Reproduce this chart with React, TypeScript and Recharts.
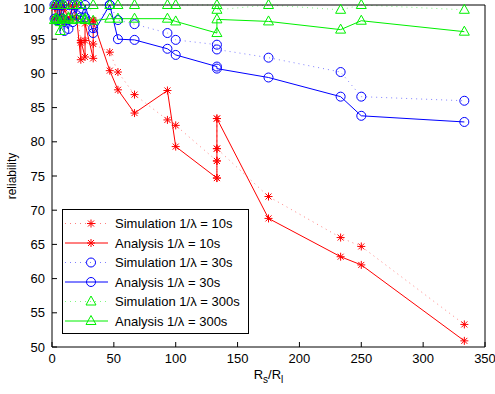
import React from 'react';
import { LineChart, Line, XAxis, YAxis, Legend } from 'recharts';

// x = Rs/Rl, y = reliability (%)
const X_TICKS = [0, 50, 100, 150, 200, 250, 300, 350];
const Y_TICKS = [50, 55, 60, 65, 70, 75, 80, 85, 90, 95, 100];

const redSimX = [2, 3.3, 5, 6.7, 8.3, 10, 13.3, 16.7, 20, 23.3, 26.7, 33.3, 33.3, 46.7, 53.3, 66.7, 93.3, 100, 133.3, 133.3, 133.3, 133.3, 175, 233.3, 250, 333.3];
const redSimY = [99.6, 100, 99.8, 98.3, 100, 97.8, 100, 98.2, 100, 94.5, 94.8, 97.8, 94.3, 93.1, 90.2, 86.9, 83.2, 82.4, 77.2, 74.7, 83.4, 79.0, 72.0, 66.0, 64.7, 53.3];

const redAnaX = [2, 3.3, 5, 6.7, 8.3, 10, 13.3, 16.7, 20, 23.3, 23.3, 26.7, 26.7, 33.3, 33.3, 46.7, 53.3, 66.7, 93.3, 100, 133.3, 133.3, 133.3, 133.3, 175, 233.3, 250, 333.3];
const redAnaY = [98, 100, 98, 99.8, 97.6, 99.5, 97.8, 99.8, 98, 92.0, 94.8, 92.4, 97.3, 92.2, 97.6, 90.4, 87.6, 84.2, 87.5, 79.3, 74.7, 77.2, 79.0, 83.4, 68.8, 63.2, 62.0, 50.9];

const otherX = [2, 3.3, 5, 6.7, 8.3, 10, 13.3, 16.7, 20, 23.3, 26.7, 33.3, 46.7, 53.3, 66.7, 93.3, 100, 133.3, 133.3, 175, 233.3, 250, 333.3];
const blueSimY = [100, 100, 97.8, 100, 98, 96.2, 100, 97.5, 100, 99.0, 98.2, 96.6, 100, 97.8, 97.2, 95.9, 94.9, 94.2, 93.5, 92.3, 90.2, 86.6, 86.0];
const blueAnaY = [98, 97.8, 100, 98, 100, 97.8, 96.5, 100, 98.5, 98.2, 100, 95.9, 100, 95.0, 94.9, 93.6, 92.7, 91.0, 90.7, 89.4, 86.6, 83.8, 82.9];
const greenSimY = [100, 98, 100, 97.5, 100, 100, 98.2, 100, 100, 100, 97.8, 100, 100, 100, 100, 100, 100, 100, 99.3, 100, 99.3, 100, 99.3];
const greenAnaY = [97.8, 98, 97.8, 96.2, 98, 97.9, 98, 97.8, 98, 97.9, 98, 97.7, 98, 98, 98, 98, 97.6, 95.9, 97.9, 97.6, 96.4, 97.7, 96.1];

const FONT = '"Liberation Sans", Arial, sans-serif';
const RED = '#ff0000';
const BLUE = '#0000ff';
const GREEN = '#00f000';

const toPoints = (xs: number[], ys: number[]) => xs.map((x, i) => ({ x, y: ys[i] }));

const Star = ({ cx, cy, color }: any) => (
  <g stroke={color} strokeWidth={1}>
    <line x1={cx - 4} y1={cy} x2={cx + 4} y2={cy} />
    <line x1={cx} y1={cy - 4} x2={cx} y2={cy + 4} />
    <line x1={cx - 3} y1={cy - 3} x2={cx + 3} y2={cy + 3} />
    <line x1={cx - 3} y1={cy + 3} x2={cx + 3} y2={cy - 3} />
  </g>
);

const Circ = ({ cx, cy, color }: any) => (
  <circle cx={cx} cy={cy} r={4.5} fill="none" stroke={color} strokeWidth={1} />
);

const Tri = ({ cx, cy, color }: any) => (
  <polygon
    points={`${cx},${cy - 5.5} ${cx - 5},${cy + 3.5} ${cx + 5},${cy + 3.5}`}
    fill="none"
    stroke={color}
    strokeWidth={1}
  />
);

const series = [
  { name: 'Simulation 1/\u03bb = 10s', pts: toPoints(redSimX, redSimY), color: RED, dotted: true, Marker: Star },
  { name: 'Analysis 1/\u03bb = 10s', pts: toPoints(redAnaX, redAnaY), color: RED, dotted: false, Marker: Star },
  { name: 'Simulation 1/\u03bb = 30s', pts: toPoints(otherX, blueSimY), color: BLUE, dotted: true, Marker: Circ },
  { name: 'Analysis 1/\u03bb = 30s', pts: toPoints(otherX, blueAnaY), color: BLUE, dotted: false, Marker: Circ },
  { name: 'Simulation 1/\u03bb = 300s', pts: toPoints(otherX, greenSimY), color: GREEN, dotted: true, Marker: Tri },
  { name: 'Analysis 1/\u03bb = 300s', pts: toPoints(otherX, greenAnaY), color: GREEN, dotted: false, Marker: Tri },
];

const LegendBox = () => (
  <svg width={187} height={125} style={{ display: 'block' }}>
    <rect x={0.5} y={0.5} width={186} height={124} fill="#fff" stroke="#000" />
    {series.map((s, i) => {
      const y = 14.5 + i * 19.5;
      return (
        <g key={s.name}>
          <line
            x1={3}
            x2={46}
            y1={y}
            y2={y}
            stroke={s.color}
            strokeOpacity={s.dotted ? 0.5 : 1}
            strokeDasharray={s.dotted ? '1 4' : undefined}
          />
          <s.Marker cx={29} cy={y} color={s.color} />
          <text x={53} y={y + 4.5} fontSize={13} fontFamily={FONT} fill="#000">
            {s.name}
          </text>
        </g>
      );
    })}
  </svg>
);

const XLabel = ({ viewBox }: any) => {
  const cx = viewBox.x + viewBox.width / 2;
  return (
    <text x={cx} y={379} textAnchor="middle" fontSize={13} fontFamily={FONT} fill="#000">
      <tspan>R</tspan>
      <tspan fontSize={10} dy={4}>s</tspan>
      <tspan dy={-4}>/R</tspan>
      <tspan fontSize={10} dy={4}>l</tspan>
    </text>
  );
};

const YLabel = ({ viewBox }: any) => {
  const cy = viewBox.y + viewBox.height / 2;
  return (
    <text
      x={16}
      y={cy}
      transform={`rotate(-90, 16, ${cy})`}
      textAnchor="middle"
      fontSize={12}
      fontFamily={FONT}
      fill="#000"
    >
      reliability
    </text>
  );
};

const tickStyle = { fill: '#000', fontSize: 13, fontFamily: FONT };
const NoTick = () => <g />;

export default function App() {
  return (
    <div style={{ position: 'absolute', left: 0, top: 0, background: '#fff' }}>
      <LineChart width={495} height={394} margin={{ top: 4, right: 9, left: 0, bottom: 0 }}>
        <XAxis
          xAxisId="b"
          type="number"
          dataKey="x"
          domain={[0, 350]}
          ticks={X_TICKS}
          height={47}
          tickSize={-5}
          tickMargin={12}
          tick={tickStyle}
          stroke="#000"
          label={<XLabel />}
        />
        <XAxis
          xAxisId="t"
          orientation="top"
          type="number"
          dataKey="x"
          domain={[0, 350]}
          ticks={X_TICKS}
          height={1}
          tickSize={-5}
          tick={NoTick}
          stroke="#000"
        />
        <YAxis
          yAxisId="l"
          type="number"
          domain={[50, 100]}
          ticks={Y_TICKS}
          width={52}
          tickSize={-5}
          tickMargin={12}
          tick={tickStyle}
          stroke="#000"
          label={<YLabel />}
        />
        <YAxis
          yAxisId="r"
          orientation="right"
          type="number"
          domain={[50, 100]}
          ticks={Y_TICKS}
          width={1}
          tickSize={-5}
          tick={NoTick}
          stroke="#000"
        />
        {series.map((s) => (
          <Line
            key={s.name}
            xAxisId="b"
            yAxisId="l"
            data={s.pts}
            dataKey="y"
            name={s.name}
            type="linear"
            stroke={s.color}
            strokeWidth={1}
            strokeOpacity={s.dotted ? 0.5 : 1}
            strokeDasharray={s.dotted ? '1 4' : undefined}
            isAnimationActive={false}
            dot={(p: any) => <s.Marker key={`${s.name}-${p.index}`} cx={p.cx} cy={p.cy} color={s.color} />}
            activeDot={false}
          />
        ))}
        <Legend
          layout="vertical"
          align="center"
          verticalAlign="middle"
          content={<LegendBox />}
          wrapperStyle={{ left: 62, top: 209, width: 187, height: 125 }}
        />
      </LineChart>
    </div>
  );
}
